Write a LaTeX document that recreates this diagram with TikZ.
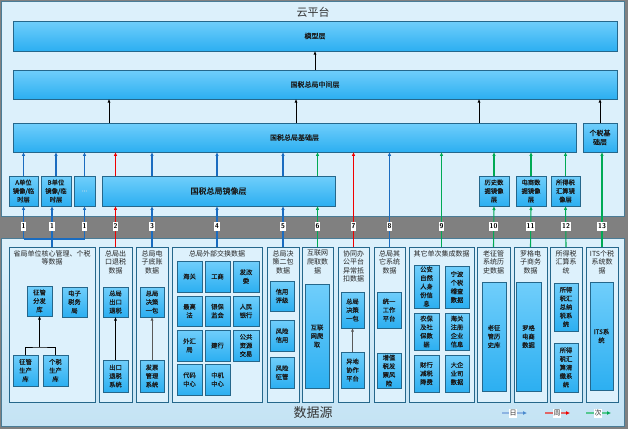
\documentclass[tikz,border=0pt]{standalone}
\usepackage{fontspec}
\newfontfamily\cjk{Noto Sans CJK SC}
\newfontfamily\cjkb[FakeBold=0.4]{Noto Sans CJK SC}
\usetikzlibrary{arrows.meta,shadows}
\definecolor{bgGray}{HTML}{808080}
\definecolor{panelFill}{HTML}{DCF0FB}
\definecolor{panelBot}{HTML}{C4E3F4}
\definecolor{panelDraw}{HTML}{4A7C96}
\definecolor{colFill}{HTML}{DDF1FC}
\definecolor{boxTop}{HTML}{70CEFB}
\definecolor{boxBot}{HTML}{2CAFF1}
\definecolor{boxDraw}{HTML}{25678B}
\definecolor{arBlue}{HTML}{1A6CC0}
\definecolor{arRed}{HTML}{F00000}
\definecolor{arGreen}{HTML}{00AA55}
\definecolor{lgBlue}{HTML}{8DB4E2}
\definecolor{lgRed}{HTML}{E06666}
\definecolor{lgGreen}{HTML}{55C890}
\newcommand\mkbox[7]{\node[#1, minimum width={(#5-#3)*1pt}, minimum height={(#6-#4)*1pt}] (#2) at ({(#3+#5)/2},{(#4+#6)/2}) {#7};}
\tikzset{
  shad/.style={drop shadow={shadow xshift=1.2pt, shadow yshift=-1.2pt, fill=black, opacity=0.35}},
  bx/.style={draw=boxDraw, line width=0.8pt, top color=boxTop, bottom color=boxBot, inner sep=0pt, outer sep=0pt,
    align=center, font=\cjkb\fontsize{6.3}{8.6}\selectfont, text=black!90, shad},
  layer/.style={bx, font=\cjkb\fontsize{7}{9}\selectfont},
  colbox/.style={draw=boxDraw, line width=0.8pt, fill=colFill, inner sep=0pt, outer sep=0pt, shad},
  coltitle/.style={anchor=north, align=center, inner sep=0pt, font=\cjk\fontsize{7}{8.6}\selectfont, text=black!85},
  ar/.style={line width=0.9pt, -{Latex[length=3.6pt,width=3.2pt]}},
  car/.style={line width=1.1pt, -{Latex[length=3.8pt,width=3.4pt]}},
  ln/.style={line width=0.9pt},
  cln/.style={line width=1.1pt},
  num/.style={fill=white, inner sep=0.7pt, minimum height=9pt, font=\sffamily\bfseries\fontsize{7}{7}\selectfont, text=black},
  lgl/.style={fill=white, inner sep=0.7pt, minimum height=9pt, font=\cjk\fontsize{7}{7}\selectfont, text=black!80},
  lgline/.style={line width=1.4pt},
}
\begin{document}
\begin{tikzpicture}[x=1pt,y=-1pt]
\useasboundingbox (0,0) rectangle (628,429);
% background and panels
\fill[bgGray] (0,0) rectangle (628,429);
\draw[panelDraw, fill=panelFill, line width=0.8pt] (1,1) rectangle (624,216);
\draw[panelDraw, line width=0.8pt, top color=panelFill, bottom color=panelBot] (1,238) rectangle (624,426);
\node[font=\cjk\fontsize{11}{11}\selectfont, text=black!80] (cloud) at (313,12) {云平台};
\node[font=\cjk\fontsize{13}{13}\selectfont, text=black!80] (src) at (313,413) {数据源};

% top layers
\mkbox{layer}{model}{13}{21}{617}{51}{模型层}
\mkbox{layer}{mid}{13}{70}{617}{99}{国税总局中间层}
\mkbox{layer}{base}{13}{123}{576}{152}{国税总局基础层}
\mkbox{layer}{gsbase}{583}{123}{617}{152}{个税基\\础层}
% mirror layers
\mkbox{bx}{mA}{9}{176}{38}{206}{A单位\\镜像/临\\时层}
\mkbox{bx}{mB}{41}{176}{71}{206}{B单位\\镜像/临\\时层}
\mkbox{bx}{mD}{74}{176}{95}{206}{\textcolor{white!80!boxDraw}{...}}
\mkbox{layer}{mG}{102}{176}{335}{206}{\fontsize{8}{9}\selectfont 国税总局镜像层}
\mkbox{bx}{mH}{479}{176}{509}{206}{历史数\\据镜像\\层}
\mkbox{bx}{mE}{516}{176}{546}{206}{电商数\\据镜像\\层}
\mkbox{bx}{mS}{551}{176}{580}{206}{所得税\\汇算镜\\像层}

% columns
\mkbox{colbox}{c1}{9}{247}{95}{402}{}
\mkbox{colbox}{c2}{99}{247}{132}{402}{}
\mkbox{colbox}{c3}{136}{247}{168}{402}{}
\mkbox{colbox}{c4}{172}{247}{262}{402}{}
\mkbox{colbox}{c5}{267}{247}{299}{402}{}
\mkbox{colbox}{c6}{302}{247}{333}{402}{}
\mkbox{colbox}{c7}{338}{247}{369}{402}{}
\mkbox{colbox}{c8}{374}{247}{405}{402}{}
\mkbox{colbox}{c9}{409}{247}{474}{402}{}
\mkbox{colbox}{c10}{477}{247}{510}{402}{}
\mkbox{colbox}{c11}{514}{247}{547}{402}{}
\mkbox{colbox}{c12}{550}{247}{582}{402}{}
\mkbox{colbox}{c13}{586}{247}{618}{402}{}
% column titles
\node[coltitle] (t1) at ([yshift=-3pt]c1.north) {省局单位核心管理、个税\\等数据};
\node[coltitle] (t2) at ([yshift=-3pt]c2.north) {总局出\\口退税\\数据};
\node[coltitle] (t3) at ([yshift=-3pt]c3.north) {总局电\\子底账\\数据};
\node[coltitle] (t4) at ([yshift=-3pt]c4.north) {总局外部交换数据};
\node[coltitle] (t5) at ([yshift=-3pt]c5.north) {总局决\\策二包\\数据};
\node[coltitle] (t6) at ([yshift=-3pt]c6.north) {互联网\\爬取数\\据};
\node[coltitle] (t7) at ([yshift=-3pt]c7.north) {协同办\\公平台\\异常抵\\扣数据};
\node[coltitle] (t8) at ([yshift=-3pt]c8.north) {总局其\\它系统\\数据};
\node[coltitle] (t9) at ([yshift=-3pt]c9.north) {其它单次集成数据};
\node[coltitle] (t10) at ([yshift=-3pt]c10.north) {老征管\\系统历\\史数据};
\node[coltitle] (t11) at ([yshift=-3pt]c11.north) {罗格电\\子商务\\数据};
\node[coltitle] (t12) at ([yshift=-3pt]c12.north) {所得税\\汇算系\\统};
\node[coltitle] (t13) at ([yshift=-3pt]c13.north) {ITS个税\\系统数\\据};

% column 1
\mkbox{bx}{zF}{27}{286}{52}{316}{征管\\分发\\库}
\mkbox{bx}{zE}{62}{287}{87}{317}{电子\\税务\\局}
\mkbox{bx}{zA}{13}{355}{38}{386}{征管\\生产\\库}
\mkbox{bx}{zB}{43}{355}{68}{386}{个税\\生产\\库}
% column 2, 3
\mkbox{bx}{b2a}{103}{287}{128}{317}{总局\\出口\\退税}
\mkbox{bx}{b2b}{103}{360}{128}{392}{出口\\退税\\系统}
\mkbox{bx}{b3a}{140}{287}{164}{317}{总局\\决策\\一包}
\mkbox{bx}{b3b}{140}{360}{164}{392}{发票\\管理\\系统}
% column 4
\mkbox{bx}{g11}{177}{261}{202}{292}{海关}
\mkbox{bx}{g12}{205}{261}{230}{292}{工商}
\mkbox{bx}{g13}{233}{261}{259}{292}{发改\\委}
\mkbox{bx}{g21}{177}{296}{202}{326}{最高\\法}
\mkbox{bx}{g22}{205}{296}{230}{326}{银保\\监会}
\mkbox{bx}{g23}{233}{296}{259}{326}{人民\\银行}
\mkbox{bx}{g31}{177}{330}{202}{361}{外汇\\局}
\mkbox{bx}{g32}{205}{330}{230}{361}{建行}
\mkbox{bx}{g33}{233}{330}{259}{361}{公共\\资源\\交易}
\mkbox{bx}{g41}{177}{364}{202}{395}{代码\\中心}
\mkbox{bx}{g42}{205}{364}{230}{395}{中机\\中心}
% column 5
\mkbox{bx}{b5a}{270}{281}{294}{311}{信用\\评级}
\mkbox{bx}{b5b}{270}{320}{294}{351}{风险\\信用}
\mkbox{bx}{b5c}{270}{357}{294}{388}{风险\\征管}
% column 6
\mkbox{bx}{b6}{305}{284}{329}{388}{互联\\网爬\\取}
% column 7
\mkbox{bx}{b7a}{341}{292}{364}{328}{总局\\决策\\一包}
\mkbox{bx}{b7b}{341}{352}{364}{388}{异地\\协作\\平台}
% column 8
\mkbox{bx}{b8a}{377}{292}{401}{328}{统一\\工作\\平台}
\mkbox{bx}{b8b}{377}{353}{401}{388}{增值\\税发\\票风\\险}
% column 9
\mkbox{bx}{h11}{414}{265}{439}{308}{公安\\自然\\人身\\份信\\息}
\mkbox{bx}{h12}{445}{266}{469}{308}{宁波\\个税\\稽查\\数据}
\mkbox{bx}{h21}{414}{313}{439}{350}{农保\\及社\\保数\\据}
\mkbox{bx}{h22}{445}{313}{469}{350}{海关\\注册\\企业\\信息}
\mkbox{bx}{h31}{414}{355}{439}{392}{财行\\减税\\降费}
\mkbox{bx}{h32}{445}{355}{469}{392}{大企\\业司\\数据}
% columns 10-13
\mkbox{bx}{b10}{482}{282}{506}{391}{老征\\管历\\史库}
\mkbox{bx}{b11}{516}{282}{541}{391}{罗格\\电商\\数据}
\mkbox{bx}{b12a}{554}{283}{578}{331}{所得\\税汇\\总纳\\税系\\统}
\mkbox{bx}{b12b}{554}{343}{578}{392}{所得\\税汇\\算清\\缴系\\统}
\mkbox{bx}{b13}{590}{282}{613}{390}{ITS系\\统}

% inner connectors
\coordinate (jz) at (39.5,347);
\draw[ln, black] (zA.north) |- (jz) -| (zB.north);
\draw[ar, black] (jz) -- (zF.south);
\draw[ar, black] (b2b.north) -- (b2a.south);
\draw[ar, black!65] (b3b.north) -- (b3a.south);
\draw[ar, black!65] (b7b.north) -- (b7a.south);

% cloud connectors
\draw[ar, black] (mid.north) -- (model.south);
\coordinate (xa) at (109,0);
\coordinate (xb) at (296,0);
\coordinate (xc) at (479,0);
\draw[ar, black] (base.north -| xa) -- (mid.south -| xa);
\draw[ar, black] (base.north -| xb) -- (mid.south -| xb);
\draw[ar, black] (base.north -| xc) -- (mid.south -| xc);
\draw[ar, black] (gsbase.north) -- (mid.south -| gsbase.north);

% mirror to base
\draw[car, arBlue] (mA.north) -- (base.south -| mA.north);
\draw[car, arBlue] (mB.north) -- (base.south -| mB.north);
\draw[car, arBlue] (mD.north) -- (base.south -| mD.north);
\draw[car, arGreen] (mH.north) -- (base.south -| mH.north);
\draw[car, arGreen] (mE.north) -- (base.south -| mE.north);
\draw[car, arGreen] (mS.north) -- (base.south -| mS.north);

% source 1 to A/B/... mirrors
\coordinate (band) at (0,226);
\coordinate (j1) at (52,239);
\draw[cln, arBlue] (c1.north) -- (j1);
\draw[cln, arBlue] (j1 -| mA.south) -- (j1 -| mD.south);
\draw[car, arBlue] (j1 -| mA.south) -- (mA.south);
\draw[car, arBlue] (j1) -- (mB.south -| j1);
\draw[car, arBlue] (j1 -| mD.south) -- (mD.south);
\node[num] (n1a) at (band -| mA.south) {1};
\node[num] (n1b) at (band -| j1) {1};
\node[num] (n1c) at (band -| mD.south) {1};

% sources via 国税总局镜像层
\draw[car, arRed] (c2.north) -- (c2.north |- mG.south);
\draw[car, arRed] (c2.north |- mG.north) -- (c2.north |- base.south);
\draw[car, arBlue] (c3.north) -- (c3.north |- mG.south);
\draw[car, arBlue] (c3.north |- mG.north) -- (c3.north |- base.south);
\draw[car, arBlue] (c4.north) -- (c4.north |- mG.south);
\draw[car, arBlue] (c4.north |- mG.north) -- (c4.north |- base.south);
\draw[car, arBlue] (c5.north) -- (c5.north |- mG.south);
\draw[car, arBlue] (c5.north |- mG.north) -- (c5.north |- base.south);
\draw[car, arGreen] (c6.north) -- (c6.north |- mG.south);
\draw[car, arGreen] (c6.north |- mG.north) -- (c6.north |- base.south);
% straight sources
\draw[car, arRed] (c7.north) -- (c7.north |- base.south);
\draw[car, arBlue] (c8.north) -- (c8.north |- base.south);
\draw[car, arGreen] (c9.north) -- (c9.north |- base.south);
\draw[car, arGreen] (c10.north) -- (mH.south);
\draw[car, arGreen] (c11.north) -- (mE.south);
\draw[car, arGreen] (c12.north) -- (mS.south);
\draw[car, arGreen] (c13.north) -- (c13.north |- gsbase.south);

\node[num] (n2) at (band -| c2.north) {2};
\node[num] (n3) at (band -| c3.north) {3};
\node[num] (n4) at (band -| c4.north) {4};
\node[num] (n5) at (band -| c5.north) {5};
\node[num] (n6) at (band -| c6.north) {6};
\node[num] (n7) at (band -| c7.north) {7};
\node[num] (n8) at (band -| c8.north) {8};
\node[num] (n9) at (band -| c9.north) {9};
\node[num] (n10) at (band -| c10.north) {10};
\node[num] (n11) at (band -| c11.north) {11};
\node[num] (n12) at (band -| c12.north) {12};
\node[num] (n13) at (band -| c13.north) {13};

% legend
\coordinate (lb1) at (502,413); \coordinate (lb2) at (527,413);
\coordinate (lr1) at (545,413); \coordinate (lr2) at (570,413);
\coordinate (lg1) at (586,413); \coordinate (lg2) at (611,413);
\draw[lgline, lgBlue, -{Latex[length=4pt,width=4pt,color=arBlue!80]}] (lb1) -- (lb2);
\draw[lgline, lgRed, -{Latex[length=4pt,width=4pt,color=arRed]}] (lr1) -- (lr2);
\draw[lgline, lgGreen, -{Latex[length=4pt,width=4pt,color=arGreen]}] (lg1) -- (lg2);
\node[lgl] (lbt) at (513,413) {日};
\node[lgl] (lrt) at (557,413) {周};
\node[lgl] (lgt) at (598,413) {次};
\end{tikzpicture}
\end{document}
